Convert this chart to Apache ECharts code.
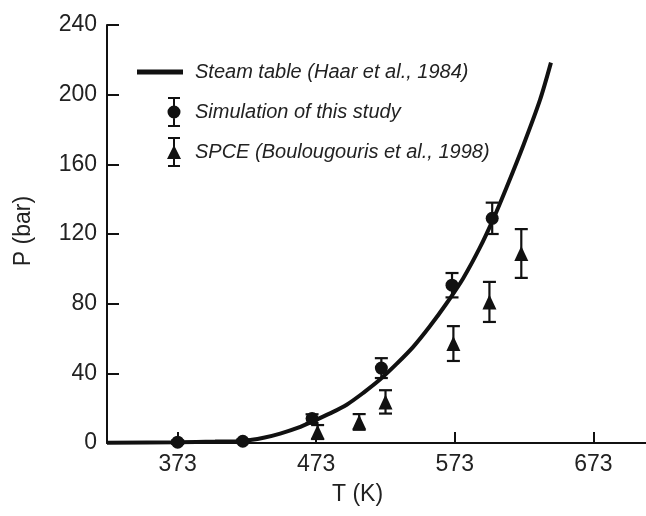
<!DOCTYPE html>
<html>
<head>
<meta charset="utf-8">
<script src="https://cdn.jsdelivr.net/npm/echarts@6/dist/echarts.min.js"></script>
<style>html,body{margin:0;padding:0;background:#fff}#c{width:646px;height:516px}</style>
</head>
<body>
<div id="c"></div>
<script>
// Steam table curve
var curveT = [322, 373, 400, 420, 435, 447, 460, 471, 483, 495, 507, 519, 531, 543, 555, 567, 579, 591, 601, 610.5, 622.5, 634.5, 642.4];
var curveP = [0.2, 0.5, 0.8, 1.2, 3.0, 5.4, 8.8, 12.6, 17.0, 22.0, 28.8, 36.4, 45.4, 55.2, 67.0, 80.1, 94.5, 112.0, 129.0, 147.0, 171.0, 197.0, 218.4];
// Simulation of this study
var simT = [373, 420, 470, 520, 571, 600];
var simP = [0.5, 1.0, 14.0, 43.0, 90.6, 129.0];
var simErr = [1.0, 1.0, 2.5, 5.7, 7.0, 9.0];
// SPCE (Boulougouris et al., 1998)
var spceT = [474, 504, 523, 572, 598, 621];
var spceP = [6.3, 12.1, 23.6, 57.1, 81.0, 108.8];
var spceErr = [4.0, 4.5, 6.7, 10.0, 11.5, 14.0];
// Tick labels
var xTicks = [373, 473, 573, 673];
var yTicks = [0, 40, 80, 120, 160, 200, 240];
var seriesNames = ['Steam table (Haar et al., 1984)', 'Simulation of this study', 'SPCE (Boulougouris et al., 1998)'];

var FONT = '"Liberation Sans", Arial, Helvetica, sans-serif';
var chart = echarts.init(document.getElementById('c'), null, {renderer: 'canvas'});

function errRender(params, api) {
  var x = api.value(0), y = api.value(1), e = api.value(2);
  var top = api.coord([x, y + e]);
  var bot = api.coord([x, y - e]);
  var h = 6.5;
  var st = {stroke: '#111', lineWidth: 2.2};
  return {
    type: 'group',
    children: [
      {type: 'line', shape: {x1: top[0], y1: top[1], x2: bot[0], y2: bot[1]}, style: st},
      {type: 'line', shape: {x1: top[0] - h, y1: top[1], x2: top[0] + h, y2: top[1]}, style: st},
      {type: 'line', shape: {x1: bot[0] - h, y1: bot[1], x2: bot[0] + h, y2: bot[1]}, style: st}
    ]
  };
}

var iconLine = 'path://M0 0M52 30M0 12.5h46v5h-46z';
var iconCircle = 'path://M0 0M52 30M36 0h2v30h-2zM31 0h12v2h-12zM31 28h12v2h-12zM30.5 15a6.5 6.5 0 1 1 13 0a6.5 6.5 0 1 1 -13 0z';
var iconTri = 'path://M0 0M52 30M36 0h2v30h-2zM31 0h12v2h-12zM31 28h12v2h-12zM37 8l7 14h-14z';

chart.setOption({
  backgroundColor: '#fff',
  animation: false,
  grid: {left: 107, right: 0, top: 25, bottom: 73, containLabel: false},
  legend: {
    orient: 'vertical',
    left: 137, top: 57,
    itemWidth: 52, itemHeight: 30, itemGap: 10,
    symbolKeepAspect: true,
    selectedMode: false,
    padding: 0,
    itemStyle: {opacity: 1},
    textStyle: {fontFamily: FONT, fontStyle: 'italic', fontSize: 20, color: '#222', padding: [0, 0, 0, 1]},
    data: [
      {name: seriesNames[0], icon: iconLine},
      {name: seriesNames[1], icon: iconCircle},
      {name: seriesNames[2], icon: iconTri}
    ]
  },
  xAxis: {
    type: 'value', min: 322, max: 711,
    name: 'T (K)', nameLocation: 'middle', nameGap: 40,
    nameTextStyle: {fontFamily: FONT, fontSize: 23, color: '#222', padding: [0, 38, 0, 0]},
    axisLine: {show: true, onZero: false, lineStyle: {color: '#111', width: 2}},
    axisTick: {show: true, inside: true, length: 11, lineStyle: {color: '#111', width: 2}, customValues: xTicks},
    axisLabel: {show: true, margin: 10, fontFamily: FONT, fontSize: 23, color: '#222', customValues: xTicks},
    splitLine: {show: false}
  },
  yAxis: {
    type: 'value', min: 0, max: 240, interval: 40,
    name: 'P (bar)', nameLocation: 'middle', nameGap: 72, nameRotate: 90,
    nameTextStyle: {fontFamily: FONT, fontSize: 23, color: '#222', padding: [0, 0, 0, 6]},
    axisLine: {show: true, onZero: false, lineStyle: {color: '#111', width: 2}},
    axisTick: {show: true, inside: true, length: 12, lineStyle: {color: '#111', width: 2}},
    axisLabel: {show: true, margin: 10, fontFamily: FONT, fontSize: 23, color: '#222'},
    splitLine: {show: false}
  },
  series: [
    {
      name: seriesNames[0], type: 'line',
      data: curveT.map(function (t, i) { return [t, curveP[i]]; }),
      smooth: 0.3, showSymbol: false, symbol: 'none',
      lineStyle: {color: '#111', width: 4},
      itemStyle: {color: '#111'},
      z: 3
    },
    {
      name: 'simErr', type: 'custom', renderItem: errRender,
      encode: {x: 0, y: 1},
      data: simT.map(function (t, i) { return [t, simP[i], simErr[i]]; }),
      z: 4, silent: true
    },
    {
      name: 'spceErr', type: 'custom', renderItem: errRender,
      encode: {x: 0, y: 1},
      data: spceT.map(function (t, i) { return [t, spceP[i], spceErr[i]]; }),
      z: 4, silent: true
    },
    {
      name: seriesNames[1], type: 'scatter',
      data: simT.map(function (t, i) { return [t, simP[i]]; }),
      symbol: 'circle', symbolSize: 13,
      itemStyle: {color: '#111', opacity: 1},
      z: 5
    },
    {
      name: seriesNames[2], type: 'scatter',
      data: spceT.map(function (t, i) { return [t, spceP[i]]; }),
      symbol: 'triangle', symbolSize: [14, 15],
      itemStyle: {color: '#111', opacity: 1},
      z: 5
    }
  ]
});
</script>
</body>
</html>
